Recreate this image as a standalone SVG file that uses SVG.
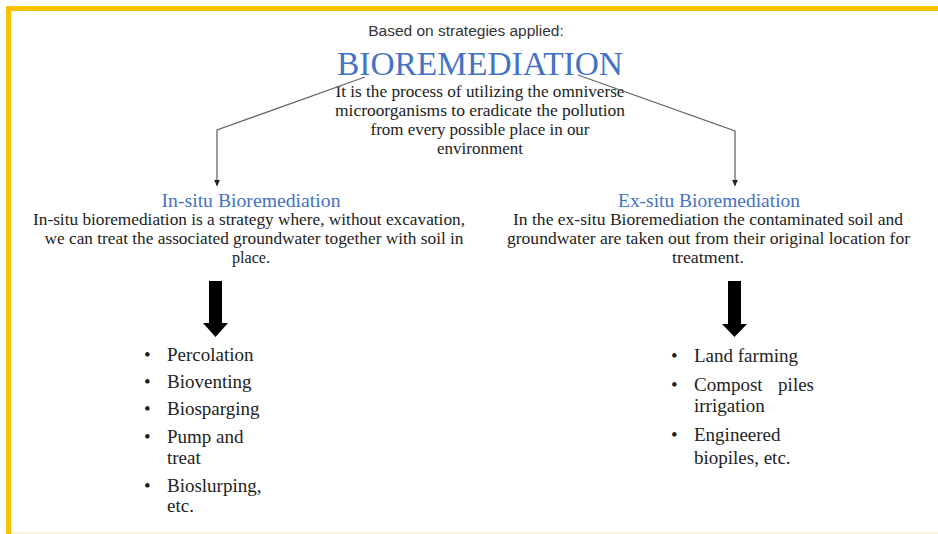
<svg xmlns="http://www.w3.org/2000/svg" width="938" height="534" viewBox="0 0 938 534">
<defs>
<style>
.sans{font-family:"Liberation Sans",Arial,sans-serif;fill:#333;}
.serif{font-family:"Liberation Serif","Times New Roman",serif;fill:#222;}
.blue{fill:#4472C4;}
.c{text-anchor:middle;}
.conn{fill:none;stroke:#666;stroke-width:1.3;}
.big{fill:#000;}
</style>
<marker id="ah" viewBox="0 0 10 10" refX="10" refY="5" markerWidth="6" markerHeight="6" orient="auto" markerUnits="userSpaceOnUse">
<path d="M0,0 L10,5 L0,10 z" fill="#222"/>
</marker>
</defs>
<rect x="0" y="0" width="938" height="534" fill="#fff"/>
<rect x="6" y="6" width="932" height="5" fill="#F9C200"/>
<rect x="6" y="6" width="5" height="528" fill="#F9C200"/>
<rect x="11" y="532" width="927" height="2" fill="#FDF3D6"/>

<g id="header">
<text class="sans c" x="466" y="36" font-size="15.5">Based on strategies applied:</text>
</g>

<g id="root">
<text class="serif blue c" x="480" y="75" font-size="33" textLength="286" lengthAdjust="spacingAndGlyphs">BIOREMEDIATION</text>
<text class="serif c" x="480" y="97" font-size="17" textLength="289" lengthAdjust="spacingAndGlyphs">It is the process of utilizing the omniverse</text>
<text class="serif c" x="480" y="116" font-size="17" textLength="290" lengthAdjust="spacingAndGlyphs">microorganisms to eradicate the pollution</text>
<text class="serif c" x="480" y="135" font-size="17" textLength="219" lengthAdjust="spacingAndGlyphs">from every possible place in our</text>
<text class="serif c" x="480" y="154" font-size="17" textLength="86" lengthAdjust="spacingAndGlyphs">environment</text>
</g>

<g id="connectors">
<polyline class="conn" points="365,77 217,130 217,186" marker-end="url(#ah)"/>
<polyline class="conn" points="578,75 735,131 735,186" marker-end="url(#ah)"/>
<path class="big" d="M209,281 H222 V323 H228 L215.5,337 L203,323 H209 Z"/>
<path class="big" d="M728,281 H741 V324 H747 L734.5,337 L722,324 H728 Z"/>
</g>

<g id="insitu">
<text class="serif blue c" x="251" y="207" font-size="19" textLength="179" lengthAdjust="spacingAndGlyphs">In-situ Bioremediation</text>
<text class="serif c" x="249" y="225" font-size="17" textLength="432" lengthAdjust="spacingAndGlyphs">In-situ bioremediation is a strategy where, without excavation,</text>
<text class="serif c" x="254" y="244" font-size="17" textLength="419" lengthAdjust="spacingAndGlyphs">we can treat the associated groundwater together with soil in</text>
<text class="serif c" x="251" y="263" font-size="17" textLength="38" lengthAdjust="spacingAndGlyphs">place.</text>
</g>

<g id="exsitu">
<text class="serif blue c" x="709" y="207" font-size="19" textLength="182" lengthAdjust="spacingAndGlyphs">Ex-situ Bioremediation</text>
<text class="serif c" x="708" y="225" font-size="17" textLength="390" lengthAdjust="spacingAndGlyphs">In the ex-situ Bioremediation the contaminated soil and</text>
<text class="serif c" x="708.5" y="244" font-size="17" textLength="403" lengthAdjust="spacingAndGlyphs">groundwater are taken out from their original location for</text>
<text class="serif c" x="708" y="263" font-size="17" textLength="72" lengthAdjust="spacingAndGlyphs">treatment.</text>
</g>

<g id="insitu-list" font-size="19">
<text class="serif" x="144" y="361">•</text><text class="serif" x="167" y="361">Percolation</text>
<text class="serif" x="144" y="388">•</text><text class="serif" x="167" y="388">Bioventing</text>
<text class="serif" x="144" y="415">•</text><text class="serif" x="167" y="415">Biosparging</text>
<text class="serif" x="144" y="443">•</text><text class="serif" x="167" y="443">Pump and</text>
<text class="serif" x="167" y="464">treat</text>
<text class="serif" x="144" y="492">•</text><text class="serif" x="167" y="492">Bioslurping,</text>
<text class="serif" x="167" y="512">etc.</text>
</g>

<g id="exsitu-list" font-size="19">
<text class="serif" x="671" y="362">•</text><text class="serif" x="694" y="362">Land farming</text>
<text class="serif" x="671" y="391">•</text><text class="serif" x="694" y="391">Compost</text><text class="serif" x="814" y="391" text-anchor="end">piles</text>
<text class="serif" x="694" y="412">irrigation</text>
<text class="serif" x="671" y="441">•</text><text class="serif" x="694" y="441">Engineered</text>
<text class="serif" x="694" y="464">biopiles, etc.</text>
</g>
</svg>
